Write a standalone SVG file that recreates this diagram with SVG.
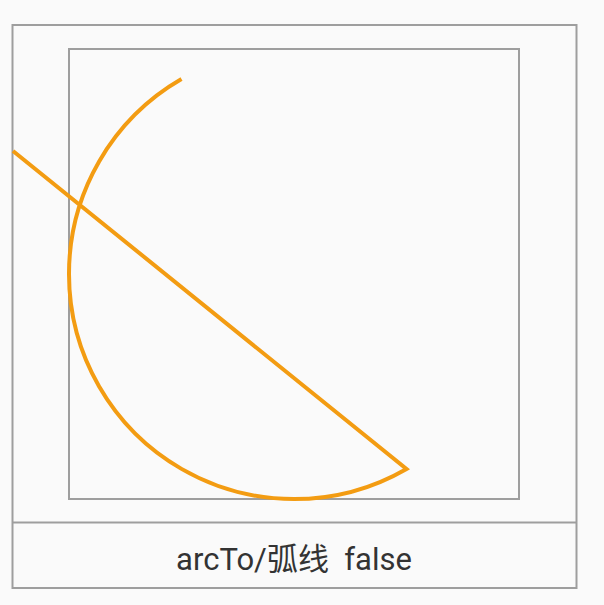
<svg xmlns="http://www.w3.org/2000/svg" width="604" height="605" viewBox="0 0 604 605">
<style>
.box{fill:none;stroke:#9e9e9e;stroke-width:2}
.curve{fill:none;stroke:#f39c12;stroke-width:4;stroke-linejoin:miter}
.label{font-family:Roboto,"Noto Sans CJK SC",sans-serif;font-size:31px;fill:#333333}
</style>
<rect width="604" height="605" fill="#fafafa"/>
<g id="frame">
<rect class="box" x="12.5" y="25" width="564" height="563"/>
<line class="box" x1="12.5" y1="522.5" x2="576.5" y2="522.5"/>
</g>
<g id="bounds">
<rect class="box" x="69" y="49" width="450" height="450"/>
</g>
<g id="connectors">
<path class="curve" d="M 181.5 79.1 A 225 225 0 0 0 69 274 A 225 225 0 0 0 406.5 468.9 L 13 151"/>
</g>
<g id="caption">
<text class="label" x="294" y="570" text-anchor="middle" xml:space="preserve">arcTo/弧线  false</text>
</g>
</svg>
